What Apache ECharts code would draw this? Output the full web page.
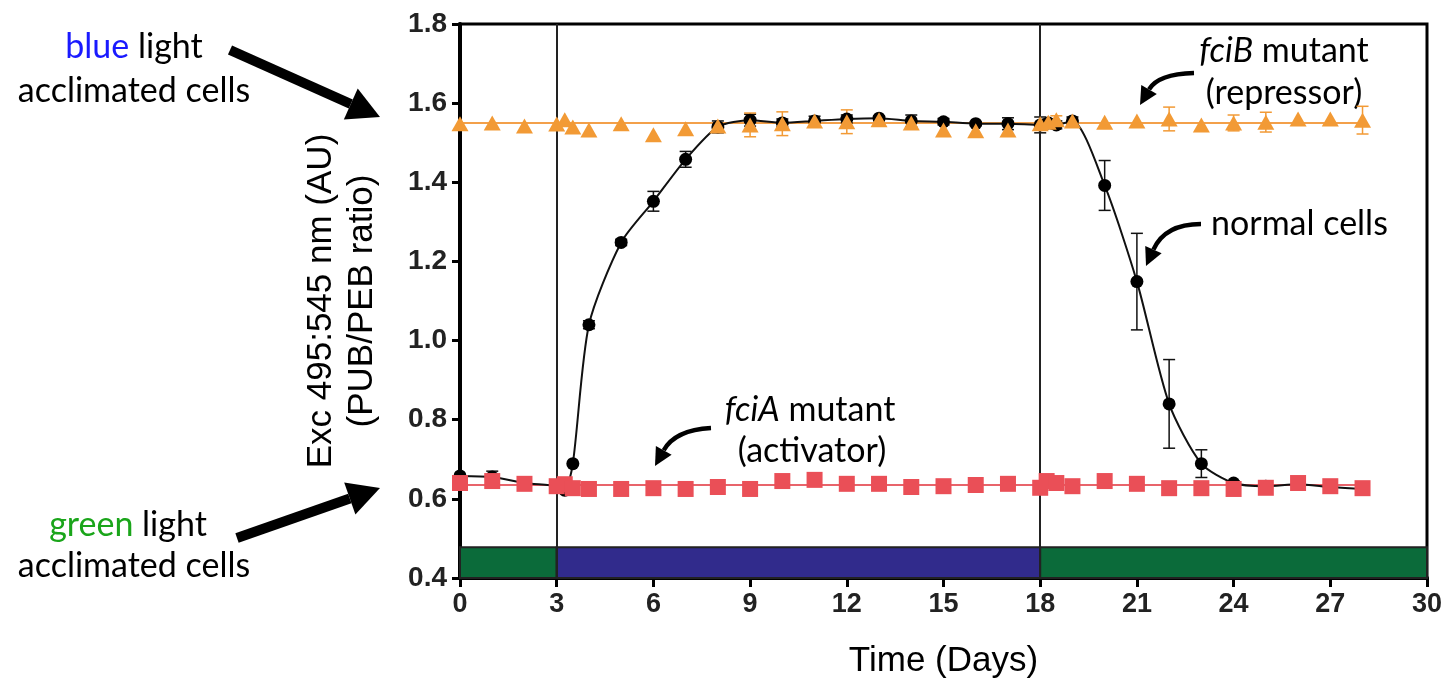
<!DOCTYPE html>
<html>
<head>
<meta charset="utf-8">
<script src="https://cdn.jsdelivr.net/npm/echarts@6/dist/echarts.min.js"></script>
<style>
html, body { margin: 0; padding: 0; background: #fff; }
#main { width: 1454px; height: 688px; }
</style>
</head>
<body>
<div id="main"></div>
<script>
// normal cells (wild type)
var normalDays = [0,1,2,3,3.25,3.5,4,5,6,7,8,9,10,11,12,13,14,15,16,17,18,18.25,18.5,19,20,21,22,23,24,25,26,27,28];
var normalVals = [0.658,0.655,0.64,0.632,0.622,0.689,1.04,1.248,1.352,1.458,1.54,1.557,1.55,1.555,1.56,1.562,1.555,1.553,1.548,1.548,1.545,1.55,1.545,1.555,1.392,1.149,0.84,0.689,0.64,0.632,0.637,0.63,0.625];
var normalErr  = [0,0.015,0,0,0,0,0.01,0.008,0.025,0.02,0.015,0.015,0.01,0.012,0.01,0.005,0.015,0.008,0.005,0.015,0.02,0.01,0.01,0.01,0.063,0.122,0.112,0.035,0.005,0,0,0,0];

// fciB mutant (repressor)
var fciBDays = [0,1,2,3,3.25,3.5,4,5,6,7,8,9,10,11,12,13,14,15,16,17,18,18.25,18.5,19,20,21,22,23,24,25,26,27,28];
var fciBVals = [1.548,1.55,1.542,1.547,1.558,1.54,1.532,1.548,1.52,1.535,1.542,1.545,1.548,1.555,1.553,1.558,1.55,1.532,1.53,1.532,1.548,1.552,1.558,1.555,1.552,1.555,1.56,1.545,1.55,1.552,1.56,1.56,1.557];
var fciBErr  = [0,0,0,0,0,0,0,0,0,0,0,0.03,0.03,0,0.03,0,0,0,0,0,0,0,0.01,0,0,0,0.03,0,0.02,0.025,0,0,0.035];

// fciA mutant (activator)
var fciADays = [0,1,2,3,3.25,3.5,4,5,6,7,8,9,10,11,12,13,14,15,16,17,18,18.2,18.5,19,20,21,22,23,24,25,26,27,28];
var fciAVals = [0.64,0.645,0.638,0.632,0.637,0.627,0.625,0.625,0.627,0.625,0.63,0.625,0.645,0.648,0.638,0.638,0.63,0.632,0.635,0.638,0.628,0.645,0.64,0.632,0.645,0.638,0.627,0.627,0.625,0.628,0.64,0.632,0.627];

// horizontal fits for the mutants
var fitRange = [0, 28];
var fciBFit = 1.55;
var fciAFit = 0.635;

// light regime bar at the bottom
var lightStart = [0, 3, 18];
var lightEnd   = [3, 18, 30];
var lightColor = ['#0b6b3a', '#312b8c', '#0b6b3a'];
var lightTop = 0.478;
var switchDays = [3, 18];

var xTicks = [0, 30, 3];
var yTicks = [0.4, 1.8, 0.2];

function pairs(xs, ys) {
    return xs.map(function (x, i) { return [x, ys[i]]; });
}
function errData(xs, ys, es) {
    var out = [];
    xs.forEach(function (x, i) {
        if (es[i] > 0) out.push([x, ys[i] - es[i], ys[i] + es[i]]);
    });
    return out;
}
function errSeries(data, color) {
    return {
        type: 'custom',
        data: data,
        z: 3,
        silent: true,
        renderItem: function (params, api) {
            var lo = api.coord([api.value(0), api.value(1)]);
            var hi = api.coord([api.value(0), api.value(2)]);
            var w = 6;
            var st = { stroke: color, lineWidth: 1.5 };
            return {
                type: 'group',
                children: [
                    { type: 'line', shape: { x1: lo[0], y1: lo[1], x2: hi[0], y2: hi[1] }, style: st },
                    { type: 'line', shape: { x1: lo[0] - w, y1: lo[1], x2: lo[0] + w, y2: lo[1] }, style: st },
                    { type: 'line', shape: { x1: hi[0] - w, y1: hi[1], x2: hi[0] + w, y2: hi[1] }, style: st }
                ]
            };
        }
    };
}

// straight fat arrow
function fatArrow(x1, y1, x2, y2) {
    var ang = Math.atan2(y2 - y1, x2 - x1);
    var L = 32, W = 17;
    var bx = x2 - L * Math.cos(ang), by = y2 - L * Math.sin(ang);
    var px = -Math.sin(ang) * W, py = Math.cos(ang) * W;
    return [
        { type: 'line', shape: { x1: x1, y1: y1, x2: bx, y2: by }, style: { stroke: '#000', lineWidth: 10 } },
        { type: 'polygon', shape: { points: [[x2, y2], [bx + px, by + py], [bx - px, by - py]] }, style: { fill: '#000' } }
    ];
}
// curved thin arrow
function curvedArrow(x1, y1, cx, cy, x2, y2) {
    var ang = Math.atan2(y2 - cy, x2 - cx);
    var L = 18, W = 9;
    var bx = x2 - L * Math.cos(ang), by = y2 - L * Math.sin(ang);
    var px = -Math.sin(ang) * W, py = Math.cos(ang) * W;
    return [
        { type: 'bezierCurve', shape: { x1: x1, y1: y1, cpx1: cx, cpy1: cy, x2: bx, y2: by }, style: { stroke: '#000', lineWidth: 4.5, fill: null } },
        { type: 'polygon', shape: { points: [[x2, y2], [bx + px, by + py], [bx - px, by - py]] }, style: { fill: '#000' } }
    ];
}

var noteFont = 'Lato, "Open Sans", sans-serif';
var noteSize = 34;
var armFont = '"Liberation Sans", Arial, sans-serif';
function note(x, y, text, rich, align) {
    return {
        type: 'text', x: x, y: y,
        style: {
            text: text, fontFamily: noteFont, fontSize: noteSize, fill: '#000',
            align: align || 'center', verticalAlign: 'middle', rich: rich || {}
        }
    };
}

var graphics = [].concat(
    note(134, 47, '{b|blue} light', { b: { fill: '#1a1aff', fontFamily: noteFont, fontSize: noteSize } }),
    note(134, 91, 'acclimated cells'),
    note(128, 525, '{g|green} light', { g: { fill: '#1aa51a', fontFamily: noteFont, fontSize: noteSize } }),
    note(134, 566, 'acclimated cells'),
    fatArrow(230, 50, 380, 117),
    fatArrow(237, 538, 380, 488),
    note(1284, 51, '{i|fciB} mutant', { i: { fontStyle: 'italic', fontFamily: noteFont, fontSize: noteSize } }),
    note(1284, 93, '(repressor)'),
    note(1211, 224, 'normal cells', null, 'left'),
    note(810, 410, '{i|fciA} mutant', { i: { fontStyle: 'italic', fontFamily: noteFont, fontSize: noteSize } }),
    note(812, 451, '(activator)'),
    curvedArrow(1194, 73, 1158, 74, 1140, 105),
    curvedArrow(1201, 224, 1165, 224, 1146, 266),
    curvedArrow(711, 428, 675, 430, 655, 466),
    {
        type: 'text', x: 342, y: 301, rotation: Math.PI / 2,
        style: {
            text: 'Exc 495:545 nm (AU)\n(PUB/PEB ratio)', fontFamily: armFont,
            fontSize: 35, lineHeight: 41, fill: '#000', align: 'center', verticalAlign: 'middle'
        }
    }
);

var chart = echarts.init(document.getElementById('main'));
var option = {
    animation: false,
    grid: {
        left: 460, right: 27, top: 24, bottom: 110,
        show: true, borderColor: '#000', borderWidth: 3, backgroundColor: 'transparent'
    },
    xAxis: {
        type: 'value', min: xTicks[0], max: xTicks[1], interval: xTicks[2],
        name: 'Time (Days)', nameLocation: 'middle', nameGap: 66,
        nameTextStyle: { fontFamily: armFont, fontSize: 35, color: '#000' },
        axisLine: { lineStyle: { color: '#000', width: 4 } },
        axisTick: { show: true, length: 9, lineStyle: { color: '#000', width: 3 } },
        axisLabel: { margin: 13, fontFamily: armFont, fontWeight: 'bold', fontSize: 27, color: '#222' },
        splitLine: { show: false }
    },
    yAxis: {
        type: 'value', min: yTicks[0], max: yTicks[1], interval: yTicks[2],
        axisLine: { show: true, lineStyle: { color: '#000', width: 4 } },
        axisTick: { show: true, length: 8, lineStyle: { color: '#000', width: 3 } },
        axisLabel: {
            margin: 13, fontFamily: armFont, fontWeight: 'bold', fontSize: 28, color: '#222',
            formatter: function (v) { return v.toFixed(1); }
        },
        splitLine: { show: false }
    },
    graphic: graphics,
    series: [
        {
            // light regime bar + day switches
            type: 'line', data: [], silent: true,
            markArea: {
                silent: true,
                data: lightStart.map(function (s, i) {
                    return [
                        { xAxis: s, yAxis: yTicks[0], itemStyle: { color: lightColor[i], borderColor: '#222', borderWidth: 2, opacity: 1 } },
                        { xAxis: lightEnd[i], yAxis: lightTop }
                    ];
                })
            },
            markLine: {
                silent: true, symbol: 'none', label: { show: false },
                lineStyle: { color: '#222', width: 2, type: 'solid' },
                data: switchDays.map(function (d) { return { xAxis: d }; })
            }
        },
        {
            name: 'fciB fit', type: 'line', symbol: 'none', z: 2,
            lineStyle: { color: '#f3a04a', width: 2 },
            data: [[fitRange[0], fciBFit], [fitRange[1], fciBFit]]
        },
        {
            name: 'fciA fit', type: 'line', symbol: 'none', z: 2,
            lineStyle: { color: '#e8646b', width: 2 },
            data: [[fitRange[0], fciAFit], [fitRange[1], fciAFit]]
        },
        errSeries(errData(normalDays, normalVals, normalErr), '#111'),
        errSeries(errData(fciBDays, fciBVals, fciBErr), '#f29a35'),
        {
            name: 'normal cells', type: 'line', smooth: 0.25, z: 4,
            symbol: 'circle', symbolSize: 13,
            itemStyle: { color: '#000' },
            lineStyle: { color: '#111', width: 2 },
            data: pairs(normalDays, normalVals)
        },
        {
            name: 'fciB mutant', type: 'scatter', z: 5,
            symbol: 'triangle', symbolSize: [17, 15],
            itemStyle: { color: '#f29a35', opacity: 1 },
            data: pairs(fciBDays, fciBVals)
        },
        {
            name: 'fciA mutant', type: 'scatter', z: 5,
            symbol: 'rect', symbolSize: 16,
            itemStyle: { color: '#ea4f57', opacity: 1 },
            data: pairs(fciADays, fciAVals)
        }
    ]
};
chart.setOption(option);
window.onresize = chart.resize;
</script>
</body>
</html>
